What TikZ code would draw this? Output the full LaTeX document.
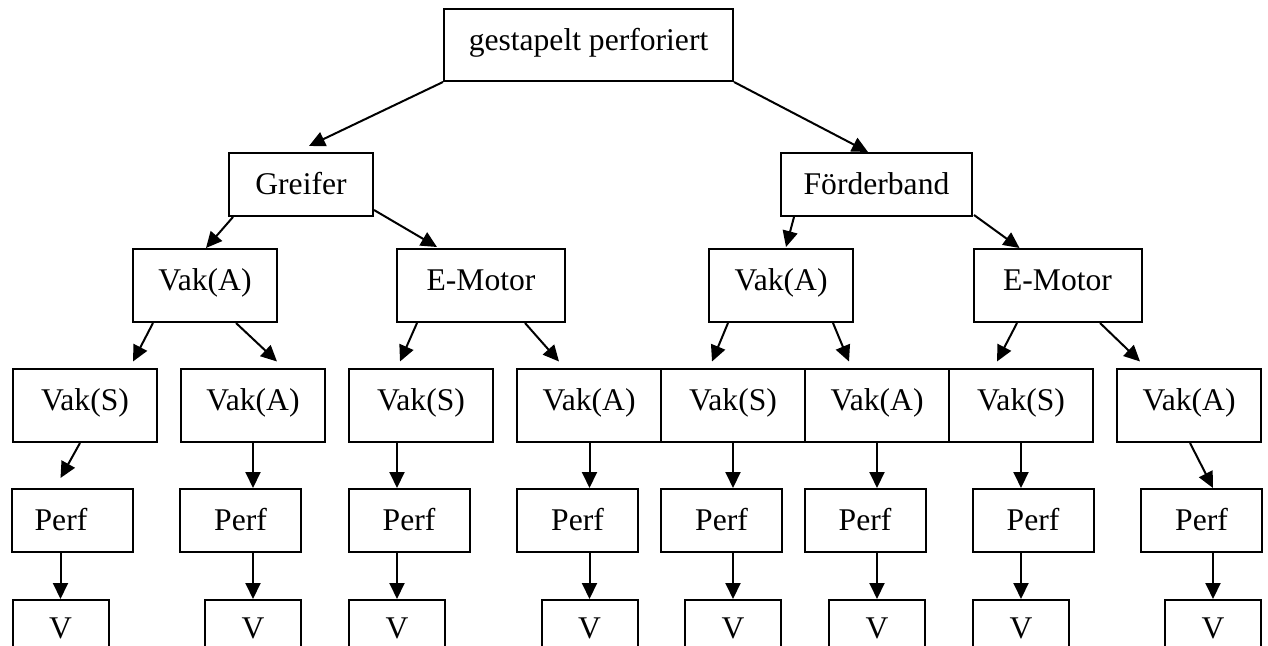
\documentclass[tikz,border=0pt]{standalone}
\usepackage{fontspec}
\setmainfont{Liberation Serif}
\usetikzlibrary{arrows.meta,calc}
\begin{document}
\begin{tikzpicture}[x=0.5pt,y=-0.5pt,
  lbl/.style={font=\fontsize{15.8}{19}\selectfont},
  box/.style={lbl, draw, line width=1pt, inner sep=0pt, text height=11pt},
  rootbox/.style={box, minimum height=36pt, text depth=5.5pt},
  midbox/.style={box, minimum height=31.5pt, text depth=1pt},
  tallbox/.style={box, minimum height=36.5pt, text depth=6pt, minimum width=72pt},
  motorbox/.style={tallbox, minimum width=84pt},
  perfbox/.style={midbox, minimum width=60.5pt},
  leafbox/.style={box, minimum height=30pt, text depth=3pt, minimum width=48pt},
  arr/.style={line width=1pt, -{Triangle[length=8pt,width=7.5pt]}}
]
\path[use as bounding box] (0,0) rectangle (1268,646);

% top levels
\node[rootbox, minimum width=144.5pt] (root) at (588.5,45) {gestapelt perforiert};
\node[midbox, minimum width=72pt] (greifer) at (301,184.5) {Greifer};
\node[midbox, minimum width=95.5pt] (foerder) at (876.5,184.5) {Förderband};

\node[tallbox] (vakAL) at (205,285.5) {Vak(A)};
\node[motorbox] (motL) at (481,285.5) {E-Motor};
\node[tallbox] (vakAR) at (781,285.5) {Vak(A)};
\node[motorbox] (motR) at (1057.5,285.5) {E-Motor};

% third level
\node[tallbox] (r1) at (85,405.5) {Vak(S)};
\node[tallbox] (r2) at (253,405.5) {Vak(A)};
\node[tallbox] (r3) at (421,405.5) {Vak(S)};
\node[tallbox] (r4) at (589,405.5) {Vak(A)};
\node[tallbox] (r5) at (733,405.5) {Vak(S)};
\node[tallbox] (r6) at (877,405.5) {Vak(A)};
\node[tallbox] (r7) at (1021,405.5) {Vak(S)};
\node[tallbox] (r8) at (1189,405.5) {Vak(A)};

% perforation level
\node[perfbox] (p1) at (72.5,520.5) {};
\node[lbl, anchor=base] (p1text) at (61,530.5) {Perf};
\node[perfbox] (p2) at (240.5,520.5) {Perf};
\node[perfbox] (p3) at (409,520.5) {Perf};
\node[perfbox] (p4) at (577.5,520.5) {Perf};
\node[perfbox] (p5) at (721.5,520.5) {Perf};
\node[perfbox] (p6) at (865,520.5) {Perf};
\node[perfbox] (p7) at (1033,520.5) {Perf};
\node[perfbox] (p8) at (1201.5,520.5) {Perf};

% leaves
\node[leafbox] (v1) at (60.5,630) {V};
\node[leafbox] (v2) at (253,630) {V};
\node[leafbox] (v3) at (397,630) {V};
\node[leafbox] (v4) at (589.5,630) {V};
\node[leafbox] (v5) at (733,630) {V};
\node[leafbox] (v6) at (877,630) {V};
\node[leafbox] (v7) at (1021,630) {V};
\node[leafbox] (v8) at (1213,630) {V};

% connectors, top
\draw[arr] (root.south west) -- ($(greifer.north)+(8,-6)$);
\draw[arr] (root.south east) -- ($(foerder.north)+(-8.5,0)$);
\draw[arr] ($(greifer.south west)+(5,0)$) -- ($(vakAL.north)+(1,0)$);
\draw[arr] ($(greifer.south east)+(0,-7)$) -- ($(motL.north west)+(41,-1)$);
\draw[arr] ($(foerder.south west)+(14,0)$) -- ($(vakAR.north)+(5,-1)$);
\draw[arr] ($(foerder.south east)+(1,-2)$) -- ($(motR.north west)+(47,0)$);

% connectors, second to third level
\draw[arr] ($(vakAL.south)+(-52,0)$) -- ($(r1.north)+(48,-6.5)$);
\draw[arr] ($(vakAL.south)+(31,0)$) -- ($(r2.north)+(24,-6.5)$);
\draw[arr] ($(motL.south)+(-64,0)$) -- ($(r3.north)+(-21,-6.5)$);
\draw[arr] ($(motL.south)+(44,0)$) -- ($(r4.north)+(-30,-6.5)$);
\draw[arr] ($(vakAR.south)+(-53,0)$) -- ($(r5.north)+(-21,-6.5)$);
\draw[arr] ($(vakAR.south)+(52,0)$) -- ($(r6.north)+(-28,-6.5)$);
\draw[arr] ($(motR.south)+(-40.5,0)$) -- ($(r7.north)+(-24,-6.5)$);
\draw[arr] ($(motR.south)+(42.5,0)$) -- ($(r8.north)+(-49,-6.5)$);

% connectors, third level to perforation
\draw[arr] ($(r1.south)+(-5,0)$) -- ($(p1.north -| v1.north)+(0,-10)$);
\draw[arr] (r2.south -| v2.north) -- (p2.north -| v2.north);
\draw[arr] (r3.south -| v3.north) -- (p3.north -| v3.north);
\draw[arr] (r4.south -| v4.north) -- (p4.north -| v4.north);
\draw[arr] (r5.south -| v5.north) -- (p5.north -| v5.north);
\draw[arr] (r6.south -| v6.north) -- (p6.north -| v6.north);
\draw[arr] (r7.south -| v7.north) -- (p7.north -| v7.north);
\draw[arr] ($(r8.south)+(1,0)$) -- (p8.north -| v8.north);

% connectors, perforation to leaves
\foreach \i in {1,...,8}{
  \draw[arr] (p\i.south -| v\i.north) -- (v\i.north);
}
\end{tikzpicture}
\end{document}
